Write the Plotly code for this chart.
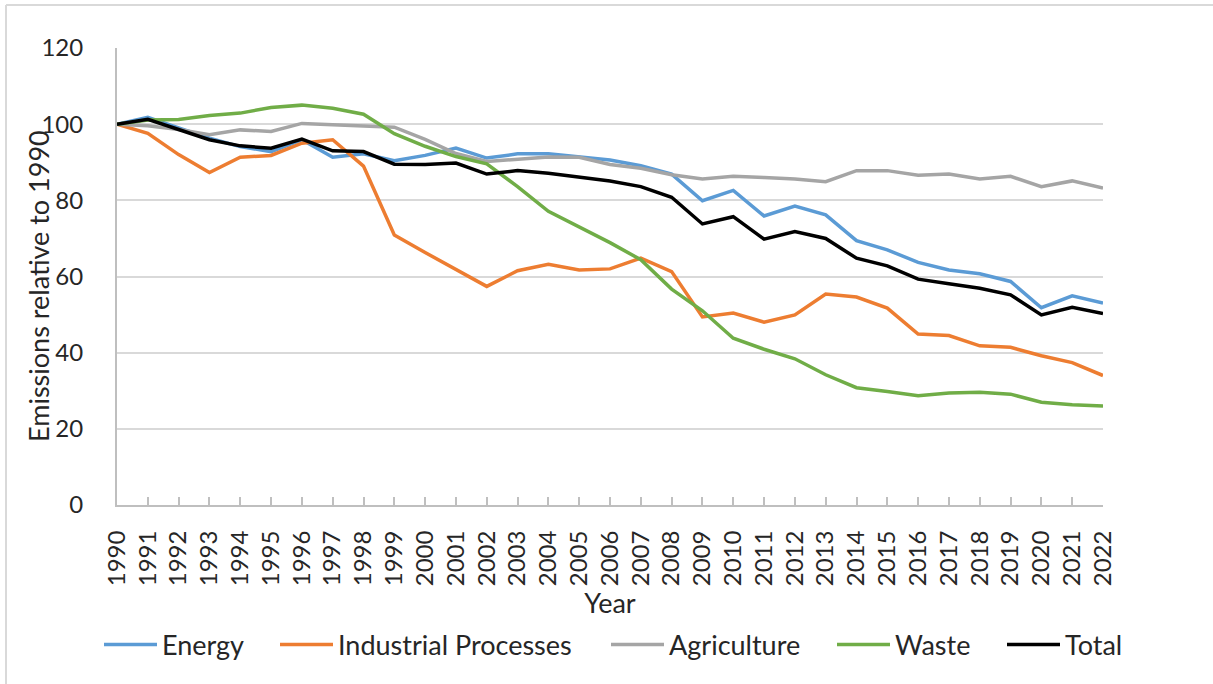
import plotly.graph_objects as go

years = ["1990", "1991", "1992", "1993", "1994", "1995", "1996", "1997", "1998", "1999",
         "2000", "2001", "2002", "2003", "2004", "2005", "2006", "2007", "2008", "2009",
         "2010", "2011", "2012", "2013", "2014", "2015", "2016", "2017", "2018", "2019",
         "2020", "2021", "2022"]

energy = [100, 101.8, 99.0, 96.3, 94.1, 92.8, 95.9, 91.3, 92.2, 90.4,
          91.8, 93.7, 91.1, 92.2, 92.2, 91.5, 90.6, 89.1, 86.9, 79.9,
          82.6, 75.9, 78.5, 76.2, 69.4, 67.0, 63.7, 61.7, 60.7, 58.7,
          51.8, 54.9, 53.0]

industrial = [100, 97.6, 92.0, 87.3, 91.3, 91.8, 95.0, 95.9, 89.0, 70.9,
              66.3, 61.9, 57.4, 61.5, 63.2, 61.7, 62.0, 64.8, 61.3, 49.4,
              50.4, 48.0, 49.9, 55.4, 54.6, 51.7, 44.9, 44.5, 41.8, 41.4,
              39.2, 37.4, 34.0]

agriculture = [100, 99.6, 98.6, 97.2, 98.5, 98.1, 100.2, 99.8, 99.4, 99.2,
               96.0, 92.3, 90.2, 90.8, 91.4, 91.3, 89.4, 88.4, 86.7, 85.6,
               86.3, 86.0, 85.6, 84.9, 87.8, 87.8, 86.6, 86.9, 85.6, 86.3,
               83.6, 85.1, 83.2]

waste = [100, 101.1, 101.2, 102.3, 102.9, 104.4, 105.0, 104.2, 102.6, 97.5,
         94.2, 91.5, 89.6, 83.6, 77.1, 73.1, 68.9, 64.4, 56.7, 51.0,
         43.8, 40.9, 38.4, 34.2, 30.8, 29.8, 28.7, 29.4, 29.6, 29.1,
         27.0, 26.3, 26.0]

total = [100, 101.3, 98.6, 95.9, 94.3, 93.7, 96.1, 93.0, 92.8, 89.5,
         89.4, 89.8, 86.9, 87.8, 87.1, 86.1, 85.1, 83.6, 80.8, 73.8,
         75.7, 69.8, 71.8, 70.0, 64.8, 62.8, 59.3, 58.1, 56.9, 55.2,
         49.9, 51.9, 50.3]

series_names = ["Energy", "Industrial Processes", "Agriculture", "Waste", "Total"]
series_values = [energy, industrial, agriculture, waste, total]
series_colors = ["#5B9BD5", "#ED7D31", "#A5A5A5", "#70AD47", "#000000"]

y_ticks = [0, 20, 40, 60, 80, 100, 120]

FONT = "Lato, 'Open Sans', sans-serif"
TXT = "#262626"
TICK_SIZE = 24
TEXT_SIZE = 27

# page / plot-area geometry (pixels)
W, H = 1213, 684
L, R, T, B = 117, 1103, 48, 505
PW, PH = R - L, B - T

def px2x(px):
    return (px - L) / PW

def px2y(py):
    return (B - py) / PH

fig = go.Figure()

legend_ids = ["legend", "legend2", "legend3", "legend4", "legend5"]
legend_line_start = [105, 281, 612, 838, 1008]

for name, vals, col, lid in zip(series_names, series_values, series_colors, legend_ids):
    fig.add_trace(go.Scatter(
        x=years, y=vals, name=name, mode="lines",
        line=dict(color=col, width=3.5),
        legend=lid,
    ))

legend_layouts = {}
for lid, lx in zip(legend_ids, legend_line_start):
    legend_layouts[lid] = dict(
        orientation="h", x=px2x(lx - 6), xanchor="left",
        y=px2y(645), yanchor="middle",
        font=dict(family=FONT, size=TEXT_SIZE, color=TXT),
        itemwidth=53, bgcolor="rgba(0,0,0,0)", borderwidth=0,
    )

fig.update_layout(
    width=W, height=H,
    margin=dict(l=L, r=W - R, t=T, b=H - B, pad=0),
    paper_bgcolor="white", plot_bgcolor="white",
    font=dict(family=FONT, size=TICK_SIZE, color=TXT),
    showlegend=True,
    **legend_layouts,
    xaxis=dict(
        type="category", categoryorder="array", categoryarray=years,
        range=[0, len(years) - 1],
        showgrid=False, zeroline=False,
        showline=True, linecolor="#BFBFBF", linewidth=2,
        ticks="inside", ticklen=8, tickwidth=2, tickcolor="#BFBFBF",
        tickangle=-90, ticklabelstandoff=14,
        tickfont=dict(family=FONT, size=TICK_SIZE, color=TXT),
        title=dict(text="Year", standoff=6, font=dict(family=FONT, size=TEXT_SIZE, color=TXT)),
    ),
    yaxis=dict(
        range=[0, 120], tickvals=y_ticks, ticktext=[str(v) for v in y_ticks],
        showgrid=True, gridcolor="#D9D9D9", gridwidth=2,
        zeroline=False,
        showline=True, linecolor="#BFBFBF", linewidth=2,
        ticks="", ticklabelstandoff=27,
        tickfont=dict(family=FONT, size=TICK_SIZE, color=TXT),
    ),
    annotations=[
        dict(text="Emissions relative to 1990", xref="paper", yref="paper",
             x=px2x(38), y=px2y(286), xanchor="center", yanchor="middle",
             textangle=-90, showarrow=False,
             font=dict(family=FONT, size=TEXT_SIZE, color=TXT)),
    ],
    shapes=[
        dict(type="line", xref="paper", yref="paper",
             x0=px2x(6), x1=px2x(6), y0=px2y(5), y1=px2y(H + 5),
             line=dict(color="#D9D9D9", width=2)),
        dict(type="line", xref="paper", yref="paper",
             x0=px2x(6), x1=px2x(W + 5), y0=px2y(5), y1=px2y(5),
             line=dict(color="#D9D9D9", width=2)),
    ],
)

fig.write_html(
    "out.html",
    config={"displayModeBar": False},
    post_script="document.body.style.margin='0';document.body.style.overflow='hidden';",
)
